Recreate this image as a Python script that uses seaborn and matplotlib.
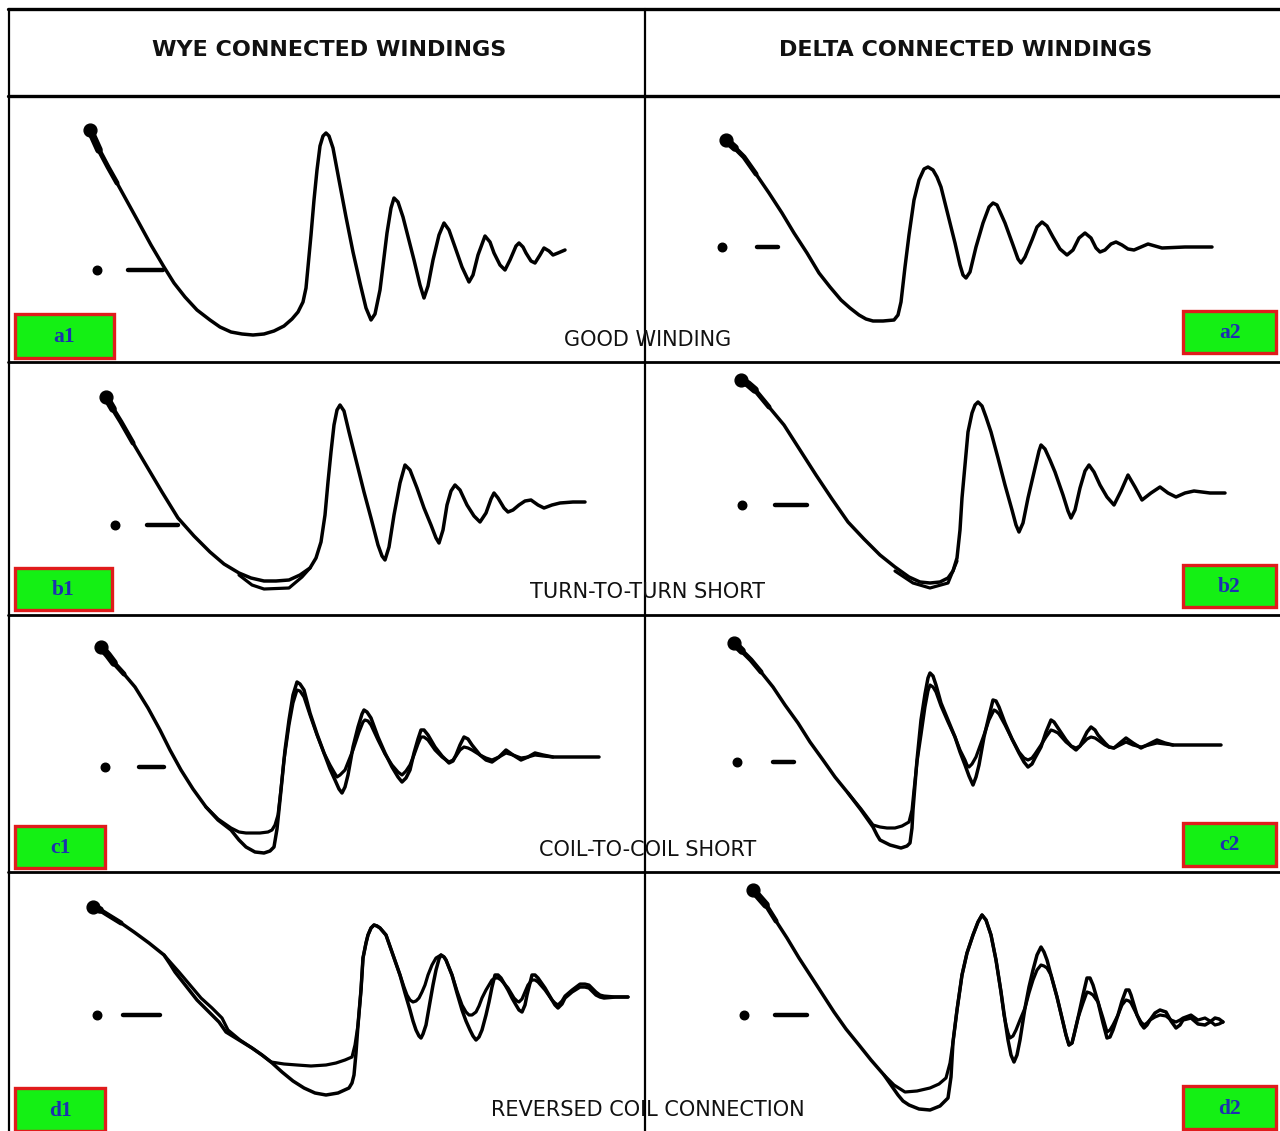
import matplotlib
matplotlib.use("Agg")
import matplotlib.pyplot as plt
from matplotlib.patches import Rectangle
import seaborn as sns
import pandas as pd

# Surge-test traces.
# t = horizontal position inside the cell, v = height above the dot/dash baseline
A1_TRACE = [(82, 140), (91, 120), (100, 103), (109, 87), (120, 67), (131, 47), (143, 25), (156, 3),
            (166, -13), (177, -27), (189, -40), (202, -50), (212, -57), (223, -62), (234, -64),
            (245, -65), (256, -64), (266, -61), (276, -56), (284, -49), (290, -42), (295, -32),
            (298, -18), (300, 3), (303, 35), (306, 70), (309, 100), (312, 124), (315, 134),
            (318, 137), (321, 134), (325, 122), (331, 90), (338, 53), (345, 18), (352, -13),
            (358, -38), (363, -50), (367, -44), (372, -20), (379, 37), (383, 62), (386, 72),
            (390, 68), (395, 53), (406, 10), (412, -15), (416, -28), (420, -16), (425, 10),
            (431, 35), (436, 47), (441, 40), (447, 23), (454, 3), (461, -12), (465, -5),
            (470, 15), (477, 34), (482, 28), (486, 17), (492, 5), (497, 0), (502, 10), (508, 24),
            (511, 27), (515, 23), (518, 17), (523, 9), (527, 7), (532, 15), (536, 22), (541, 19),
            (545, 15), (550, 17), (557, 20)]
A2_TRACE = [(81, 107), (90, 99), (99, 90), (111, 73), (124, 54), (137, 34), (149, 14), (162, -6),
            (174, -26), (185, -40), (196, -53), (205, -61), (214, -68), (221, -72), (228, -74),
            (238, -74), (249, -73), (253, -68), (256, -55), (260, -20), (264, 12), (269, 47),
            (274, 67), (279, 78), (283, 80), (288, 77), (292, 70), (296, 60), (303, 32), (310, 4),
            (315, -18), (318, -28), (321, -31), (325, -25), (331, 0), (338, 24), (344, 40),
            (348, 44), (352, 42), (356, 33), (360, 24), (368, 2), (373, -12), (376, -16),
            (380, -10), (387, 7), (392, 20), (397, 25), (402, 21), (408, 10), (415, -2),
            (422, -8), (428, -3), (434, 9), (440, 14), (446, 9), (451, -1), (455, -5), (460, -3),
            (466, 3), (471, 5), (477, 2), (483, -2), (489, -3), (496, 0), (503, 3), (510, 1),
            (517, -1), (540, 0), (567, 0)]
B1_TRACE = [(98, 128), (105, 116), (113, 103), (125, 82), (138, 60), (154, 33), (170, 7),
            (186, -11), (202, -27), (216, -39), (231, -48), (243, -53), (256, -56), (268, -56),
            (281, -55), (292, -50), (302, -43), (308, -33), (313, -17), (317, 10), (320, 43),
            (323, 73), (326, 100), (329, 115), (332, 120), (336, 114), (341, 93), (348, 65),
            (356, 33), (363, 7), (370, -20), (374, -31), (377, -35), (381, -22), (386, 10),
            (392, 42), (397, 60), (402, 55), (409, 37), (416, 17), (423, 0), (428, -13),
            (431, -18), (435, -5), (439, 20), (443, 34), (447, 40), (452, 35), (459, 20),
            (466, 9), (472, 3), (478, 12), (483, 26), (486, 32), (490, 27), (496, 17), (500, 13),
            (505, 15), (511, 20), (517, 24), (523, 25), (530, 20), (536, 17), (544, 20),
            (552, 22), (565, 23), (577, 23)]
B1_FAULT = [(231, -50), (244, -60), (256, -64), (281, -63), (294, -52), (302, -43)]
B2_TRACE = [(96, 125), (103, 121), (110, 115), (124, 98), (139, 80), (155, 55), (171, 30),
            (187, 6), (203, -17), (219, -34), (235, -50), (250, -62), (264, -72), (275, -77),
            (285, -78), (295, -77), (303, -73), (308, -66), (312, -53), (315, -25), (317, 7),
            (320, 40), (323, 73), (327, 92), (330, 100), (333, 103), (337, 99), (341, 88),
            (346, 73), (353, 47), (360, 20), (367, -5), (371, -20), (374, -27), (378, -18),
            (383, 7), (390, 37), (394, 54), (396, 60), (400, 56), (405, 45), (410, 33), (418, 10),
            (423, -6), (426, -13), (430, -5), (435, 17), (440, 34), (444, 40), (449, 33),
            (455, 20), (462, 8), (469, 0), (476, 14), (483, 30), (490, 18), (497, 5), (506, 12),
            (515, 18), (523, 12), (531, 8), (540, 12), (549, 14), (565, 12), (580, 12)]
B2_FAULT = [(250, -66), (268, -78), (285, -83), (303, -78), (312, -56)]
C1_TRACE = [(93, 120), (100, 112), (106, 104), (116, 93), (127, 80), (140, 59), (152, 37),
            (162, 17), (173, -3), (185, -22), (198, -40), (210, -53), (223, -63), (231, -73),
            (238, -80), (247, -85), (256, -86), (262, -84), (266, -80), (269, -62), (272, -33),
            (277, 17), (281, 47), (285, 72), (289, 85), (292, 83), (296, 77), (302, 54),
            (309, 33), (316, 14), (322, -2), (327, -13), (331, -22), (334, -26), (337, -20),
            (340, -8), (345, 20), (350, 40), (354, 53), (356, 57), (359, 55), (363, 49),
            (370, 30), (377, 14), (384, 0), (390, -10), (394, -15), (398, -11), (402, -3),
            (406, 14), (410, 28), (413, 37), (416, 37), (420, 32), (427, 20), (434, 11),
            (441, 4), (445, 6), (448, 12), (452, 22), (456, 30), (460, 28), (464, 22), (472, 12),
            (478, 7), (484, 5), (491, 10), (498, 17), (505, 12), (513, 7), (520, 10), (527, 14),
            (535, 12), (545, 10), (591, 10)]
C1_FAULT = [(198, -40), (210, -52), (223, -61), (231, -65), (238, -66), (252, -66), (260, -65),
            (264, -63), (267, -58), (270, -48), (273, -22), (276, 7), (281, 42), (285, 64),
            (289, 77), (292, 76), (296, 70), (302, 52), (309, 32), (316, 14), (322, 2),
            (326, -5), (329, -10), (332, -8), (337, -3), (345, 17), (351, 35), (355, 45),
            (357, 47), (360, 46), (363, 42), (370, 27), (377, 13), (384, 2), (390, -5),
            (394, -8), (398, -4), (402, 2), (406, 12), (410, 23), (413, 30), (416, 30),
            (420, 27), (427, 17), (434, 10), (441, 5), (445, 7), (448, 11), (452, 17), (456, 20),
            (460, 19), (464, 17), (472, 12), (478, 9), (484, 7), (491, 10), (498, 14), (505, 12),
            (513, 9), (520, 10), (527, 12), (535, 11), (545, 10)]
C2_TRACE = [(89, 119), (97, 111), (106, 102), (116, 90), (128, 75), (140, 57), (153, 39),
            (165, 20), (178, 2), (190, -15), (203, -31), (216, -48), (228, -65), (232, -73),
            (235, -78), (245, -83), (256, -86), (262, -84), (265, -81), (267, -66), (268, -48),
            (272, 2), (276, 42), (280, 68), (283, 84), (285, 89), (288, 86), (291, 77), (296, 59),
            (303, 42), (310, 25), (315, 10), (320, -3), (324, -14), (328, -23), (331, -15),
            (334, -3), (339, 25), (344, 46), (348, 62), (351, 61), (354, 55), (360, 39),
            (367, 23), (374, 9), (379, 0), (383, -5), (387, -2), (390, 4), (396, 15), (401, 30),
            (406, 42), (409, 40), (413, 34), (421, 22), (426, 16), (431, 12), (435, 16),
            (438, 22), (442, 30), (446, 35), (450, 32), (453, 27), (460, 19), (464, 15),
            (469, 14), (475, 19), (481, 24), (488, 19), (496, 14), (504, 18), (512, 22),
            (520, 19), (528, 17), (576, 17)]
C2_FAULT = [(203, -31), (216, -47), (228, -63), (235, -65), (242, -66), (250, -66), (257, -64),
            (264, -60), (267, -48), (269, -28), (272, 0), (276, 27), (280, 55), (283, 71),
            (285, 77), (288, 75), (291, 70), (296, 56), (303, 40), (310, 25), (315, 12),
            (320, 2), (322, -3), (324, -5), (327, -2), (331, 5), (339, 27), (344, 42), (349, 52),
            (351, 51), (354, 48), (360, 37), (367, 23), (374, 10), (379, 4), (383, 2), (387, 4),
            (390, 8), (396, 17), (401, 25), (406, 32), (409, 31), (413, 29), (421, 20),
            (426, 16), (431, 14), (435, 16), (438, 19), (442, 23), (446, 25), (450, 24),
            (453, 22), (460, 17), (464, 15), (469, 14), (475, 17), (481, 20), (488, 17),
            (496, 15), (504, 17), (512, 19), (520, 18), (528, 17)]
D1_TRACE = [(85, 108), (92, 105), (100, 100), (113, 92), (126, 83), (141, 72), (156, 60),
            (162, 51), (167, 43), (178, 29), (189, 15), (200, 4), (211, -7), (218, -17),
            (231, -25), (244, -33), (254, -40), (263, -47), (274, -57), (285, -66), (296, -73),
            (307, -78), (318, -80), (330, -78), (341, -73), (344, -68), (346, -60), (348, -38),
            (350, -10), (353, 25), (355, 57), (358, 72), (360, 80), (363, 87), (366, 90),
            (369, 89), (372, 87), (378, 80), (385, 60), (392, 40), (397, 22), (402, 5),
            (405, -6), (408, -15), (411, -21), (413, -23), (415, -19), (418, -10), (422, 13),
            (425, 30), (428, 45), (431, 56), (433, 60), (436, 58), (438, 55), (444, 40),
            (449, 22), (454, 5), (458, -6), (462, -15), (465, -21), (468, -25), (471, -22),
            (474, -15), (478, 0), (481, 13), (484, 28), (487, 40), (490, 40), (493, 37),
            (500, 25), (504, 17), (508, 10), (511, 5), (514, 3), (517, 10), (519, 20), (522, 32),
            (524, 40), (527, 40), (530, 37), (537, 27), (544, 15), (547, 10), (550, 7),
            (554, 11), (557, 17), (564, 23), (572, 28), (577, 28), (581, 27), (588, 20),
            (592, 18), (596, 17), (608, 18), (620, 18)]
D1_FAULT = [(156, 60), (163, 52), (171, 43), (182, 30), (193, 17), (204, 7), (214, -3),
            (220, -15), (232, -25), (244, -33), (254, -40), (263, -47), (276, -49), (289, -50),
            (303, -51), (318, -50), (328, -48), (337, -45), (344, -42), (347, -30), (350, -10),
            (353, 25), (355, 57), (358, 72), (360, 80), (363, 87), (366, 90), (369, 89),
            (372, 87), (378, 80), (385, 60), (392, 40), (396, 28), (399, 20), (402, 15),
            (405, 13), (408, 14), (411, 17), (414, 23), (417, 30), (420, 40), (424, 50),
            (428, 57), (433, 60), (436, 58), (438, 55), (444, 40), (449, 24), (454, 10),
            (458, 3), (461, 0), (464, 0), (468, 3), (471, 9), (474, 17), (478, 25), (481, 30),
            (484, 35), (487, 37), (490, 37), (493, 35), (500, 27), (503, 22), (506, 17),
            (509, 14), (511, 13), (514, 16), (517, 23), (520, 30), (524, 35), (527, 35),
            (530, 33), (537, 25), (544, 15), (547, 12), (550, 10), (554, 14), (557, 19),
            (564, 25), (572, 31), (577, 31), (581, 30), (588, 23), (592, 20), (596, 19),
            (608, 18), (620, 18)]
D2_TRACE = [(108, 125), (114, 118), (121, 110), (131, 94), (142, 77), (154, 57), (167, 37),
            (178, 20), (189, 3), (201, -14), (214, -30), (226, -45), (239, -60), (246, -70),
            (253, -80), (258, -86), (264, -90), (274, -94), (285, -95), (295, -91), (303, -83),
            (306, -62), (308, -27), (312, 5), (317, 40), (322, 62), (328, 80), (333, 93),
            (337, 100), (341, 95), (346, 80), (351, 55), (356, 23), (360, -5), (363, -25),
            (366, -40), (369, -47), (372, -40), (375, -25), (380, 7), (384, 28), (388, 45),
            (392, 60), (396, 68), (399, 63), (402, 55), (406, 40), (412, 18), (417, -3),
            (421, -20), (424, -30), (427, -28), (429, -20), (433, -3), (438, 20), (442, 37),
            (445, 37), (448, 30), (453, 13), (458, -8), (462, -23), (465, -22), (468, -15),
            (473, 0), (477, 14), (481, 25), (484, 25), (486, 20), (492, 0), (496, -9), (499, -13),
            (502, -10), (505, -5), (510, 2), (515, 5), (521, 3), (526, -6), (531, -13),
            (535, -10), (538, -5), (546, -3), (553, -9), (560, -10), (565, -7), (570, -3),
            (574, -4), (578, -7)]
D2_FAULT = [(239, -60), (249, -70), (260, -77), (272, -76), (285, -73), (294, -69), (301, -63),
            (305, -48), (308, -27), (312, 5), (317, 40), (322, 62), (328, 80), (333, 93),
            (337, 100), (341, 95), (346, 80), (351, 55), (356, 23), (359, 0), (361, -10),
            (363, -18), (365, -23), (368, -21), (371, -15), (375, -5), (380, 7), (384, 22),
            (388, 35), (392, 45), (396, 50), (399, 49), (402, 47), (406, 40), (412, 18),
            (417, -3), (421, -20), (424, -30), (427, -28), (429, -20), (433, -3), (438, 12),
            (442, 23), (445, 22), (448, 20), (453, 13), (458, -3), (462, -17), (465, -15),
            (468, -10), (473, 0), (477, 10), (481, 15), (484, 14), (486, 12), (492, 0),
            (496, -7), (499, -10), (502, -8), (505, -5), (510, -2), (515, 0), (521, -1),
            (526, -5), (531, -7), (535, -5), (538, -3), (546, 0), (553, -5), (560, -3),
            (565, -6), (570, -10), (574, -9), (578, -7)]

PANELS = ["a1", "a2", "b1", "b2", "c1", "c2", "d1", "d2"]
TRACES = [A1_TRACE, A2_TRACE, B1_TRACE, B2_TRACE, C1_TRACE, C2_TRACE, D1_TRACE, D2_TRACE]
FAULTS = [None, None, B1_FAULT, B2_FAULT, C1_FAULT, C2_FAULT, D1_FAULT, D2_FAULT]
DOT_T = [89, 77, 107, 97, 97, 92, 89, 99]
DASH_START = [120, 112, 139, 130, 131, 128, 115, 130]
DASH_END = [155, 133, 170, 162, 156, 149, 152, 162]

HEADERS = ["WYE CONNECTED WINDINGS", "DELTA CONNECTED WINDINGS"]
CAPTIONS = ["GOOD WINDING", "TURN-TO-TURN SHORT", "COIL-TO-COIL SHORT", "REVERSED COIL CONNECTION"]

# page layout in pixels (figure is 1280 x 1131)
W, H = 1280, 1131
COL_EDGES = [8, 645, 1280]
ROW_EDGES = [96, 362, 615, 872, 1131]
BASELINES = [270, 247, 525, 505, 767, 762, 1015, 1015]
LEFT_BOXES = [(15, 314, 99, 44), (15, 568, 97, 42), (15, 826, 90, 42), (15, 1088, 90, 43)]
RIGHT_BOXES = [(1183, 311, 93, 42), (1183, 565, 93, 42), (1183, 823, 93, 43), (1183, 1086, 93, 43)]
CAPTION_Y = [340, 592, 850, 1110]

sns.set_style("white")
plt.rcParams['font.family'] = ['DejaVu Sans']

fig = plt.figure(figsize=(W / 100, H / 100), dpi=100)
fig.patch.set_facecolor("white")

# frame: table lines, headings, captions, panel tags
frame = fig.add_axes([0, 0, 1, 1])
frame.set_xlim(0, W)
frame.set_ylim(H, 0)
frame.axis("off")

frame.plot([8, W], [9, 9], color="black", lw=2.4)
frame.plot([8, W], [96, 96], color="black", lw=2.4)
for y in ROW_EDGES[1:-1]:
    frame.plot([8, W], [y, y], color="black", lw=2.0)
frame.plot([9, 9], [9, H], color="black", lw=1.6)
frame.plot([645, 645], [9, H], color="black", lw=1.6)

for i, head in enumerate(HEADERS):
    xc = (COL_EDGES[i] + COL_EDGES[i + 1]) / 2
    frame.text(xc + 3, 50, head, ha="center", va="center", fontsize=16,
               fontweight="bold", color="#111111")

for y, cap in zip(CAPTION_Y, CAPTIONS):
    frame.text(648, y, cap, ha="center", va="center", fontsize=15, color="#111111")

for k, box in enumerate(LEFT_BOXES + RIGHT_BOXES):
    x, y, w, h = box
    frame.add_patch(Rectangle((x, y), w, h, facecolor="#14f014", edgecolor="#e01c1c", lw=2.4))
    tag = PANELS[2 * k] if k < 4 else PANELS[2 * (k - 4) + 1]
    frame.text(x + w / 2, y + h / 2 + 1, tag, ha="center", va="center", fontsize=15.5,
               fontweight="bold", color="#1c30b0", family=["Liberation Serif", "DejaVu Serif"])

# one axes per cell, in the cell's own time / amplitude units
for i, name in enumerate(PANELS):
    row, col = i // 2, i % 2
    x0, x1 = COL_EDGES[col], COL_EDGES[col + 1]
    y0, y1 = ROW_EDGES[row], ROW_EDGES[row + 1]
    base = BASELINES[i]
    ax = fig.add_axes([x0 / W, 1 - y1 / H, (x1 - x0) / W, (y1 - y0) / H])
    ax.set_xlim(0, x1 - x0)
    ax.set_ylim(base - y1, base - y0)
    ax.axis("off")
    ax.patch.set_alpha(0)

    trace = pd.DataFrame(TRACES[i], columns=["t", "v"])
    sns.lineplot(data=trace, x="t", y="v", sort=False, estimator=None, ax=ax,
                 color="black", lw=2.5, solid_joinstyle="round", solid_capstyle="round")
    if FAULTS[i] is not None:
        fault = pd.DataFrame(FAULTS[i], columns=["t", "v"])
        sns.lineplot(data=fault, x="t", y="v", sort=False, estimator=None, ax=ax,
                     color="black", lw=2.3, solid_joinstyle="round", solid_capstyle="round")
    # heavy tail at the start of the trace, tapering off
    t_start = trace["t"].iloc[0]
    head = trace[trace["t"] <= t_start + 14]
    neck = trace[trace["t"] <= t_start + 30]
    sns.lineplot(data=neck, x="t", y="v", sort=False, estimator=None, ax=ax,
                 color="black", lw=3.6, solid_capstyle="round", solid_joinstyle="round")
    sns.lineplot(data=head, x="t", y="v", sort=False, estimator=None, ax=ax,
                 color="black", lw=5.5, solid_capstyle="round", solid_joinstyle="round")
    ax.scatter(t_start, trace["v"].iloc[0], s=85, color="black", zorder=5)

    # reference dot and dash
    ax.scatter([DOT_T[i]], [0], s=38, color="black", zorder=5)
    ax.plot([DASH_START[i], DASH_END[i]], [0, 0], color="black", lw=3.2, solid_capstyle="round")
    if ax.get_legend() is not None:
        ax.get_legend().remove()

fig.savefig("out.png", dpi=100, facecolor="white")
